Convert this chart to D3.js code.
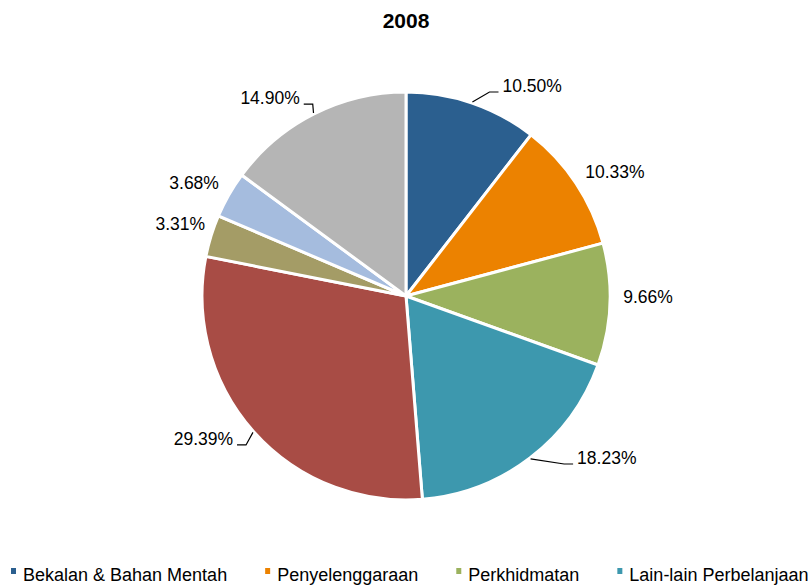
<!DOCTYPE html>
<html>
<head>
<meta charset="utf-8">
<script src="https://cdn.jsdelivr.net/npm/d3@7"></script>
<style>
body { margin: 0; background: #fff; }
svg { display: block; font-family: "Liberation Sans", Arial, sans-serif; }
.slice { stroke: #fff; stroke-width: 3px; }
.lbl { font-size: 17.5px; fill: #000; }
.leader { stroke: #000; stroke-width: 1.2px; fill: none; }
.legend text { font-size: 18px; fill: #000; }
</style>
</head>
<body>
<script>
// data (clockwise from 12 o'clock)
var title = "2008";
var categories = ["Bekalan & Bahan Mentah", "Penyelenggaraan", "Perkhidmatan", "Lain-lain Perbelanjaan", "", "", "", ""];
var values = [10.50, 10.33, 9.66, 18.23, 29.39, 3.31, 3.68, 14.90];
var colors = ["#2B5F8F", "#EC8200", "#9BB25E", "#3D98AE", "#A84C45", "#A49C66", "#A5BCDE", "#B5B5B5"];

// label placement: angle (deg, clockwise from top), radius, leader line?
var labelAngle = [31, 59.3, 90.2, 128.9, 234.8, 287.7, 298, 325.5];
var labelRadius = [245, 243, 242, 258, 248, 237, 240, 240];
var hasLeader = [true, false, false, true, true, false, false, true];

var width = 811, height = 586,
    cx = 406, cy = 296, radius = 204;

var svg = d3.select("body").append("svg")
    .attr("width", width)
    .attr("height", height);

svg.append("text")
    .attr("x", cx).attr("y", 28)
    .attr("text-anchor", "middle")
    .style("font-size", "21px").style("font-weight", "bold")
    .text(title);

var pie = d3.pie().sort(null).value(d => d);
var arcs = pie(values);
var arc = d3.arc().innerRadius(0).outerRadius(radius);

var g = svg.append("g").attr("transform", "translate(" + cx + "," + cy + ")");

g.selectAll(".slice")
    .data(arcs)
    .enter().append("path")
    .attr("class", "slice")
    .attr("d", arc)
    .attr("fill", (d, i) => colors[i]);

function polar(deg, r) {
    var a = deg * Math.PI / 180;
    return [r * Math.sin(a), -r * Math.cos(a)];
}

var lbl = g.selectAll(".lbl")
    .data(arcs)
    .enter().append("text")
    .attr("class", "lbl")
    .attr("text-anchor", "middle")
    .attr("dy", "0.35em")
    .attr("x", (d, i) => polar(labelAngle[i], labelRadius[i])[0])
    .attr("y", (d, i) => polar(labelAngle[i], labelRadius[i])[1])
    .text(d => d.value.toFixed(2) + "%");

// leader lines
lbl.each(function(d, i) {
    if (!hasLeader[i]) return;
    var bb = this.getBBox();
    var p = polar(labelAngle[i], labelRadius[i]);
    var mid = (d.startAngle + d.endAngle) / 2 * 180 / Math.PI;
    var edge = polar(mid, radius + 1);
    var right = p[0] > 0;
    var ax = right ? bb.x - 4 : bb.x + bb.width + 4;
    var ay = p[1] + 6;
    var ex = right ? ax - 9 : ax + 9;
    g.insert("path", ".lbl")
        .attr("class", "leader")
        .attr("d", d3.line()([edge, [ex, ay], [ax, ay]]));
});

// legend (overflows the right edge, as in the original)
var legend = svg.append("g").attr("class", "legend");
var lx = 11;
categories.forEach(function(name, i) {
    if (!name) return;
    var it = legend.append("g").attr("transform", "translate(" + lx + ",0)");
    it.append("rect")
        .attr("x", 0).attr("y", 568)
        .attr("width", 5).attr("height", 6)
        .attr("fill", colors[i]);
    var t = it.append("text")
        .attr("x", 12).attr("y", 581)
        .text(name);
    lx += 12 + t.node().getComputedTextLength() + 38;
});
</script>
</body>
</html>
